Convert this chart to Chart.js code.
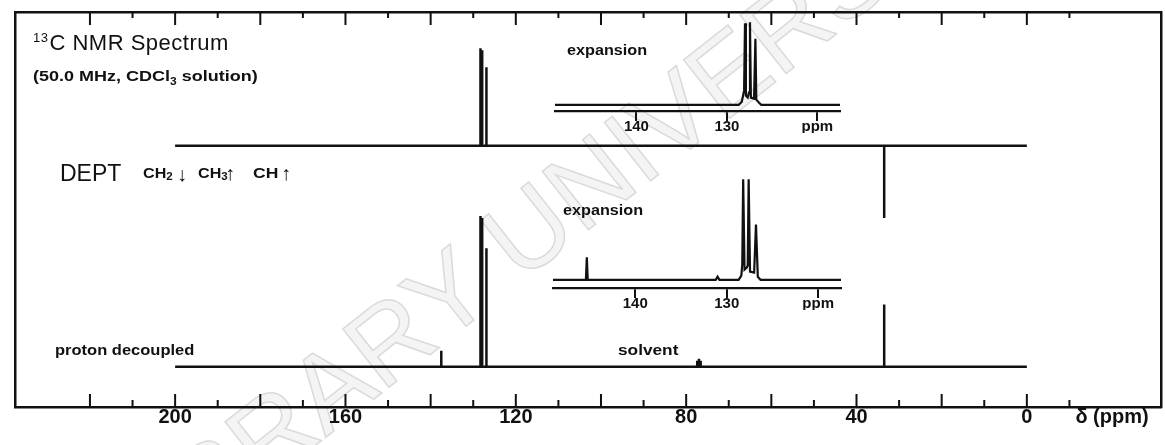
<!DOCTYPE html>
<html>
<head>
<meta charset="utf-8">
<script src="https://cdn.jsdelivr.net/npm/chart.js@4.4.1/dist/chart.umd.min.js"></script>
<style>
  body { margin: 0; background: #fff; }
  #wrap { position: relative; width: 1165px; height: 445px; overflow: hidden;
          font-family: "Liberation Sans", Arial, sans-serif; color: #111; }
  canvas { position: absolute; }
  .t { position: absolute; white-space: nowrap; line-height: 1; transform-origin: 0 50%; }
  .b { font-weight: bold; }
  .arr { position: absolute; line-height: 1; font-size: 20px; }
  .wm { position: absolute; left: 560px; top: 205px; white-space: nowrap; line-height: 1;
        font-size: 108px; color: #f4f4f4; -webkit-text-stroke: 1.5px #dadada;
        transform: translate(-50%, -50%) rotate(-38.3deg); }
</style>
</head>
<body>
<div id="wrap">
  <div class="wm">LIBRARY UNIVERSITY</div>

  <canvas id="main" width="1165" height="445" style="left:0;top:0;width:1165px;height:445px"></canvas>
  <canvas id="exp1" width="330" height="130" style="left:535px;top:12px;width:330px;height:130px"></canvas>
  <canvas id="exp2" width="330" height="154" style="left:533px;top:165px;width:330px;height:154px"></canvas>

  <div class="t" style="left:33px;top:32px;font-size:22px;letter-spacing:0.5px"><span style="font-size:13px;position:relative;top:-8px;margin-right:1px">13</span>C NMR Spectrum</div>
  <div class="t b" style="left:33px;top:68px;font-size:15px;transform:scaleX(1.2)">(50.0 MHz, CDCl<span style="font-size:10px;position:relative;top:4px">3</span> solution)</div>

  <div class="t" style="left:60px;top:162px;font-size:23px">DEPT</div>
  <div class="t b" style="left:143px;top:166px;font-size:14px;transform:scaleX(1.15)">CH<span style="font-size:10px;position:relative;top:2px">2</span></div>
  <div class="arr" style="left:177px;top:164px">↓</div>
  <div class="t b" style="left:198px;top:166px;font-size:14px;transform:scaleX(1.15)">CH<span style="font-size:10px;position:relative;top:2px">3</span></div>
  <div class="arr" style="left:225px;top:163px">↑</div>
  <div class="t b" style="left:253px;top:166px;font-size:14px;transform:scaleX(1.25)">CH</div>
  <div class="arr" style="left:281px;top:163px">↑</div>

  <div class="t b" style="left:567px;top:42px;font-size:15px;transform:scaleX(1.08)">expansion</div>
  <div class="t b" style="left:563px;top:202px;font-size:15px;transform:scaleX(1.08)">expansion</div>
  <div class="t b" style="left:55px;top:342px;font-size:15px;transform:scaleX(1.1)">proton decoupled</div>
  <div class="t b" style="left:618px;top:342px;font-size:15px;transform:scaleX(1.15)">solvent</div>
</div>

<script>
// chemical shift axis (ppm)
const ppmLabels = [200, 160, 120, 80, 40, 0];
const axisTicks = [220, 210, 200, 190, 180, 170, 160, 150, 140, 130, 120, 110, 100,
                   90, 80, 70, 60, 50, 40, 30, 20, 10, 0, -10];
const majorTicks = [220, 200, 180, 160, 140, 120, 100, 80, 60, 40, 20, 0];
const unitLabel = 'δ (ppm)';

// DEPT trace: CH up, CH2 down
const deptPpm = [128.3, 127.9, 126.9, 33.5];
const deptInt = [97, 95, 78, -72];

// proton decoupled trace (CDCl3 triplet at 77)
const decPpm = [137.5, 128.3, 127.9, 126.9, 77.4, 77.0, 76.6, 33.5];
const decInt = [16, 150, 148, 118, 6, 8, 6, 62];

// expansions 117.5 - 149 ppm, hand read outline of each trace
const expTicks = [140, 130, 120];
const expTickText = ['140', '130', 'ppm'];
const exp1Ppm = [149, 128.7, 128.35, 128.1, 128.0, 127.9, 127.7, 127.55, 127.45, 127.35, 127.0, 126.85, 126.75, 126.45, 126.2, 117.5];
const exp1Int = [0, 0, 3, 14, 79, 9, 7, 12, 80, 7, 6, 64, 5, 2, 0, 0];
const exp2Ppm = [149, 145.4, 145.3, 145.2, 131.2, 131.0, 130.8, 128.7, 128.4, 128.3, 128.2, 128.05, 127.8, 127.7, 127.6, 127.45, 127.0, 126.8, 126.6, 126.3, 117.5];
const exp2Int = [0, 0, 22, 0, 0, 3, 0, 0, 4, 15, 98, 10, 12, 14, 98, 8, 7, 54, 3, 0, 0];

// where the two traces sit on the main plot
const deptBase = 260;
const decBase = 40;

const ink = '#111';

function stickTrace(ppm, ints, base) {
  const pts = [{ x: 200, y: base }];
  ppm.forEach((p, i) => {
    pts.push({ x: p, y: base });
    pts.push({ x: p, y: base + ints[i] });
    pts.push({ x: p, y: base });
  });
  pts.push({ x: 0, y: base });
  return pts;
}

function outline(ppm, ints) {
  return ppm.map((p, i) => ({ x: p, y: ints[i] }));
}

const inwardTicks = {
  id: 'inwardTicks',
  afterDraw(chart) {
    const { ctx, chartArea } = chart;
    const sx = chart.scales.x;
    ctx.save();
    ctx.strokeStyle = ink;
    ctx.lineWidth = 2;
    ctx.beginPath();
    axisTicks.forEach(v => {
      const px = sx.getPixelForValue(v);
      const big = majorTicks.includes(v);
      ctx.moveTo(px, chartArea.bottom);
      ctx.lineTo(px, chartArea.bottom - (big ? 13 : 7));
      ctx.moveTo(px, chartArea.top);
      ctx.lineTo(px, chartArea.top + (big ? 13 : 6));
    });
    ctx.stroke();
    ctx.restore();
  }
};

const lineDs = (data, w) => ({
  data: data,
  borderColor: ink,
  borderWidth: w,
  pointRadius: 0,
  tension: 0,
  fill: false
});

const frameSide = pos => ({
  position: pos,
  display: true,
  min: 0,
  max: 1,
  ticks: { display: false },
  grid: { display: true, drawOnChartArea: false, drawTicks: false },
  border: { display: true, color: ink, width: 2.5 }
});

new Chart(document.getElementById('main'), {
  type: 'line',
  data: {
    datasets: [
      lineDs(stickTrace(deptPpm, deptInt, deptBase), 2.5),
      lineDs(stickTrace(decPpm, decInt, decBase), 2.5)
    ]
  },
  options: {
    responsive: false,
    animation: false,
    layout: { padding: { left: 15, top: 12, right: 4, bottom: 18 } },
    plugins: { legend: { display: false }, tooltip: { enabled: false } },
    scales: {
      x: {
        type: 'linear',
        reverse: true,
        min: -31.5,
        max: 237.6,
        afterBuildTicks: s => {
          s.ticks = ppmLabels.concat([-20]).map(v => ({ value: v }));
        },
        ticks: {
          padding: -2,
          color: ink,
          font: { family: 'Liberation Sans', size: 20, weight: 'bold' },
          maxRotation: 0,
          autoSkip: false,
          callback: v => (v === -20 ? unitLabel : String(v))
        },
        grid: { display: true, drawOnChartArea: false, drawTicks: false },
        border: { display: true, color: ink, width: 2.5 }
      },
      xTop: {
        type: 'linear',
        position: 'top',
        reverse: true,
        min: -31.5,
        max: 237.6,
        ticks: { display: false },
        grid: { display: true, drawOnChartArea: false, drawTicks: false },
        border: { display: true, color: ink, width: 2.5 }
      },
      y: {
        position: 'left',
        min: 0,
        max: 393,
        ticks: { display: false },
        grid: { display: true, drawOnChartArea: false, drawTicks: false },
        border: { display: true, color: ink, width: 2.5 }
      },
      yRight: frameSide('right')
    }
  },
  plugins: [inwardTicks]
});

function expansion(id, ppm, ints, yMin, yMax, pad) {
  new Chart(document.getElementById(id), {
    type: 'line',
    data: { datasets: [lineDs(outline(ppm, ints), 2.2)] },
    options: {
      responsive: false,
      animation: false,
      layout: { padding: pad },
      plugins: { legend: { display: false }, tooltip: { enabled: false } },
      scales: {
        x: {
          type: 'linear',
          reverse: true,
          min: 117.5,
          max: 149,
          afterBuildTicks: s => {
            s.ticks = expTicks.map(v => ({ value: v }));
          },
          ticks: {
            padding: -3,
            color: ink,
            font: { family: 'Liberation Sans', size: 15, weight: 'bold' },
            maxRotation: 0,
            autoSkip: false,
            callback: v => expTickText[expTicks.indexOf(v)]
          },
          grid: { display: true, drawOnChartArea: false, drawTicks: true, tickLength: 10, color: ink, lineWidth: 2 },
          border: { display: true, color: ink, width: 2.2 }
        },
        y: { display: false, min: yMin, max: yMax }
      }
    }
  });
}

expansion('exp1', exp1Ppm, exp1Int, -6, 90, { left: 20, right: 25, top: 0, bottom: 9 });
expansion('exp2', exp2Ppm, exp2Int, -8, 112, { left: 20, right: 22, top: 0, bottom: 9 });
</script>
</body>
</html>
